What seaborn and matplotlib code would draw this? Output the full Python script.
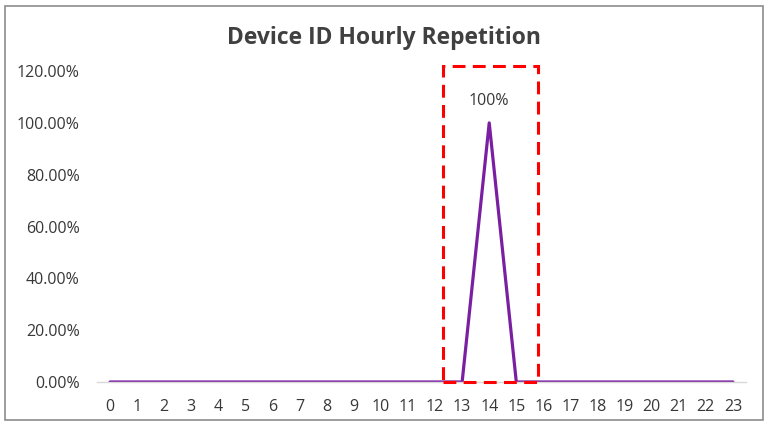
import pandas as pd
import seaborn as sns
import matplotlib
import matplotlib.pyplot as plt
from matplotlib.patches import Rectangle
from matplotlib.ticker import PercentFormatter

matplotlib.use('Agg')

hours = list(range(24))
repetition = [0, 0, 0, 0, 0, 0, 0, 0, 0, 0, 0, 0, 0, 0, 1.0, 0, 0, 0, 0, 0, 0, 0, 0, 0]
peak_label = '100%'

df = pd.DataFrame({'hour': hours, 'repetition': repetition})

sns.set_theme(style='white')
plt.rcParams['font.family'] = ['Open Sans', 'DejaVu Sans']

fig = plt.figure(figsize=(7.68, 4.28), dpi=100)
ax = fig.add_axes([0.1257, 0.1075, 0.8463, 0.7265])

sns.lineplot(data=df, x='hour', y='repetition', color='#7B1FA2', linewidth=2.3, ax=ax)

ax.set_xlim(-0.5, 23.5)
ax.set_ylim(0, 1.2)
ax.set_xticks(hours)
ax.set_yticks([0, 0.2, 0.4, 0.6, 0.8, 1.0, 1.2])
ax.yaxis.set_major_formatter(PercentFormatter(1.0, decimals=2))
ax.set(xlabel='', ylabel='')
ax.tick_params(axis='both', length=0, labelsize=11.5, labelcolor='#383838')
ax.tick_params(axis='x', pad=12)
ax.tick_params(axis='y', pad=12)

for side in ['top', 'right', 'left']:
    ax.spines[side].set_visible(False)
ax.spines['bottom'].set_color('#d9d9d9')
ax.spines['bottom'].set_linewidth(1)

# peak label
peak_idx = repetition.index(max(repetition))
ax.annotate(peak_label, (hours[peak_idx], repetition[peak_idx]), xytext=(0, 10),
            textcoords='offset points', ha='center', va='bottom', fontsize=11.5, color='#383838')

# red dashed highlight box around the peak
ax.add_patch(Rectangle((12.3, 0), 3.5, 1.22, fill=False, edgecolor='#ff0000',
                       linestyle=(0, (4.2, 2.4)), linewidth=2.2, clip_on=False, zorder=3))

fig.suptitle('Device ID Hourly Repetition', x=0.5, y=0.94, fontsize=16.5,
             fontweight='bold', color='#404040')

# outer chart border
fig.patches.append(Rectangle((5 / 768, 8 / 428), 758 / 768, 414 / 428, transform=fig.transFigure,
                             fill=False, edgecolor='#8c8c8c', linewidth=1.2))

fig.savefig('out.png', dpi=100)
